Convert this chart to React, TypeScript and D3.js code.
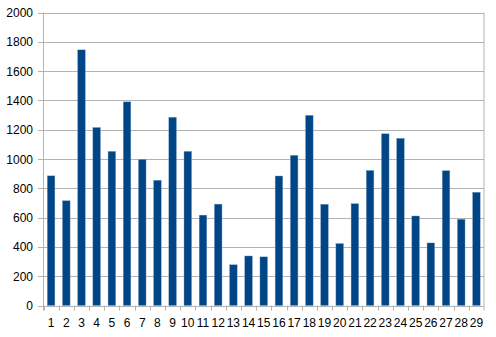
import React from "react";
import * as d3 from "d3";

const categories = Array.from({ length: 29 }, (_, i) => String(i + 1));
const values = [885, 715, 1745, 1215, 1052, 1390, 997, 855, 1285, 1052, 617, 692, 278, 338, 332, 884, 1025, 1298, 691, 423, 695, 922, 1172, 1141, 611, 427, 920, 589, 773];
const yTicks = [0, 200, 400, 600, 800, 1000, 1200, 1400, 1600, 1800, 2000];

const W = 496, H = 337;
const left = 43.5, right = 484, top = 12.5, bottom = 305.5;

export default function App() {
  const x = d3.scaleBand<string>().domain(categories).range([left, right]).paddingInner(0.5).paddingOuter(0.25);
  const xb = d3.scaleBand<string>().domain(categories).range([left, right]);
  const y = d3.scaleLinear().domain([0, 2000]).range([bottom, top]);
  const font = "'Liberation Sans', Arial, sans-serif";
  return (
    <svg width={W} height={H} style={{ position: "absolute", left: 0, top: 0, background: "#fff" }} fontFamily={font}>
      {yTicks.map(t => (
        <g key={t}>
          <line x1={38} x2={right} y1={Math.round(y(t)) + 0.5} y2={Math.round(y(t)) + 0.5} stroke="#b3b3b3" strokeWidth={1} />
          <text x={33} y={y(t) + 4.5} textAnchor="end" fontSize={12} fill="#000">{t}</text>
        </g>
      ))}
      <line x1={right} x2={right} y1={top} y2={bottom} stroke="#b3b3b3" />
      {values.map((v, i) => (
        <rect key={i} x={x(categories[i])} y={y(v)} width={x.bandwidth()} height={bottom - y(v)} fill="#004586" stroke="#7f9fc3" strokeWidth={0.4} />
      ))}
      <line x1={left} x2={left} y1={top} y2={bottom + 5} stroke="#b3b3b3" />
      {categories.map((c, i) => (
        <g key={c}>
          <line x1={Math.round(xb(c)!) + 0.5} x2={Math.round(xb(c)!) + 0.5} y1={bottom} y2={bottom + 5} stroke="#b3b3b3" />
          <text x={xb(c)! + xb.bandwidth() / 2} y={bottom + 21} textAnchor="middle" fontSize={12} fill="#000">{c}</text>
        </g>
      ))}
      <line x1={right} x2={right} y1={bottom} y2={bottom + 5} stroke="#b3b3b3" />
    </svg>
  );
}
